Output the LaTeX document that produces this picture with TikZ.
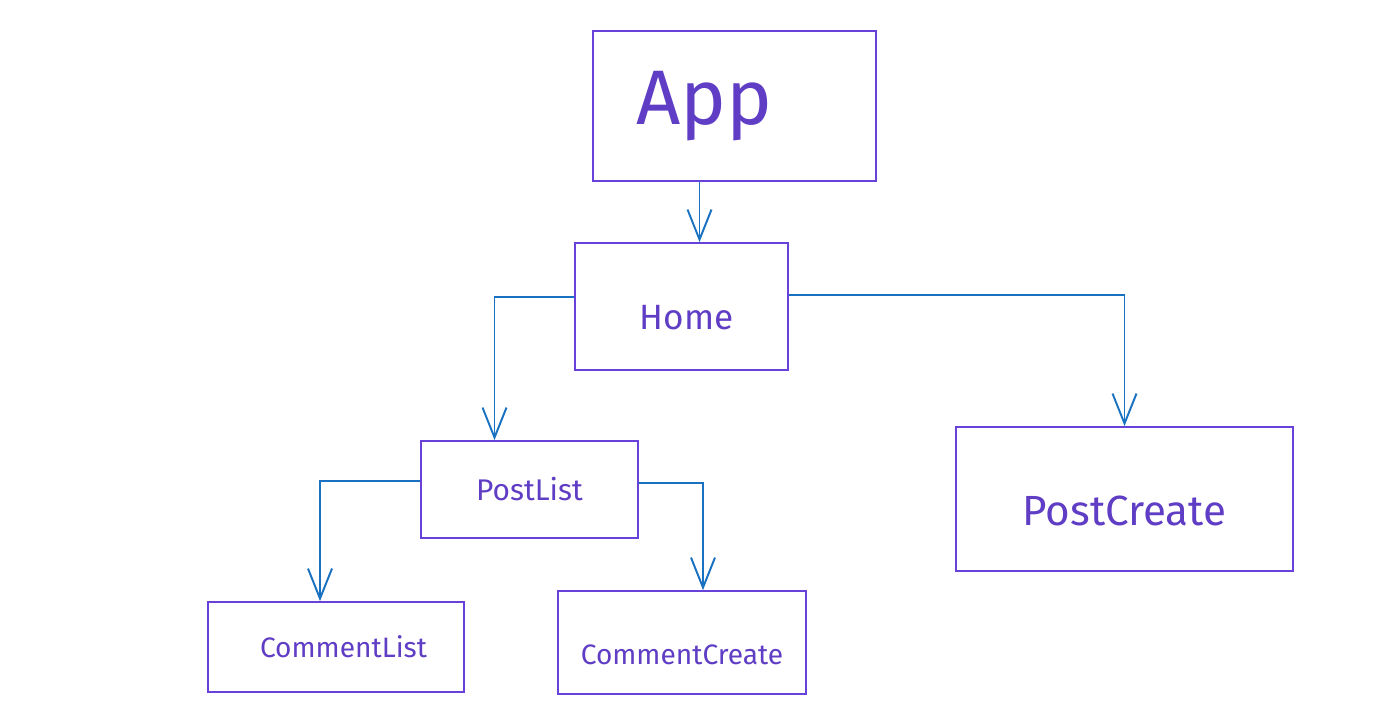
\documentclass[tikz,border=0pt]{standalone}
\usepackage{fontspec}
\setmainfont{Fira Sans}
\usepackage{tikz}
\usetikzlibrary{
  arrows.meta,
  positioning
}
\definecolor{cpBox}{HTML}{6741D9}
\definecolor{cpText}{HTML}{5F3DC4}
\definecolor{cpLink}{HTML}{1971C2}
\tikzset{
  cpnode/.style={
    draw=cpBox, line width=1pt, fill=white, inner sep=0pt,
    text=cpText, align=center
  },
  link/.style={-{Straight Barb[length=6mm, width=4.8mm]}, line width=1.1pt, cpLink}
}

\begin{document}
\begin{tikzpicture}[x=0.02cm, y=-0.02cm]
  \useasboundingbox (0,0) rectangle (1392,725);
  \node[cpnode, minimum width=5.66cm, minimum height=3cm, font=\fontsize{44}{48}\selectfont]
    (app) at (734.5,106) {App\hspace*{1.2cm}};
  \node[cpnode, minimum width=4.26cm, minimum height=2.54cm, font=\fontsize{20}{24}\selectfont]
    (home) at (681.5,306.5) {\\[1mm]\hspace*{2mm}Home};
  \node[cpnode, minimum width=4.34cm, minimum height=1.94cm, font=\fontsize{17}{20}\selectfont]
    (postlist) at (529.5,489.5) {PostList};
  \node[cpnode, minimum width=6.74cm, minimum height=2.88cm, font=\fontsize{24}{28}\selectfont]
    (postcreate) at (1124.5,499) {\\[1mm]PostCreate};
  \node[cpnode, minimum width=5.12cm, minimum height=1.8cm, font=\fontsize{16}{19}\selectfont]
    (commentlist) at (336,647) {\hspace*{3mm}CommentList};
  \node[cpnode, minimum width=4.96cm, minimum height=2.06cm, font=\fontsize{16}{19}\selectfont]
    (commentcreate) at (682,642.5) {\\[2mm]CommentCreate};
  \draw[link] ([xshift=-0.7cm]app.south) -- ([xshift=-0.7cm]app.south |- home.north);
  \draw[link] ([yshift=0.19cm]home.west) -| ([xshift=-0.7cm]postlist.north);
  \draw[link] ([yshift=0.23cm]home.east) -| (postcreate.north);
  \draw[link] ([yshift=0.17cm]postlist.west) -| ([xshift=-0.32cm]commentlist.north);
  \draw[link] ([yshift=0.13cm]postlist.east) -| ([xshift=0.42cm]commentcreate.north);
\end{tikzpicture}
\end{document}
